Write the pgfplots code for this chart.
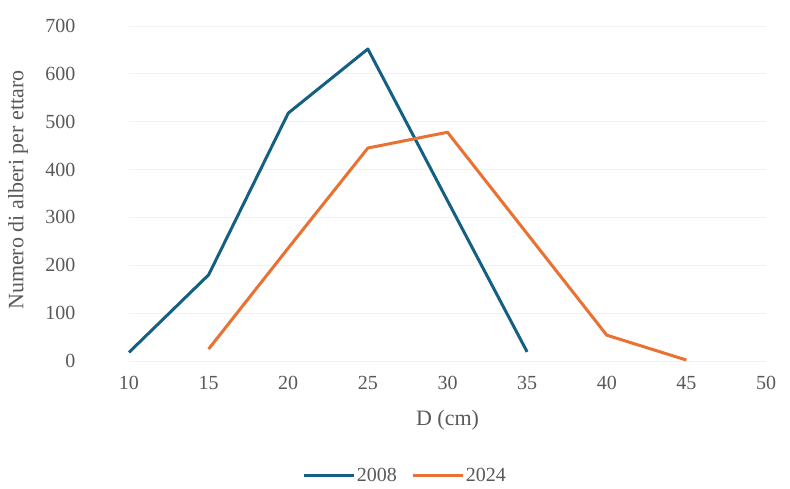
\documentclass[border=0pt]{standalone}
\usepackage{fontspec}
\setmainfont{Liberation Serif}
\usepackage{pgfplots}
\pgfplotsset{compat=1.18}
\definecolor{c08}{HTML}{156082}
\definecolor{c24}{HTML}{E97132}
\definecolor{txt}{HTML}{595959}
\begin{document}
\begin{tikzpicture}
\begin{axis}[
  scale only axis,
  width=637pt, height=335pt,
  xmin=10, xmax=50, ymin=0, ymax=700,
  xtick={10,15,...,50}, ytick={0,100,...,700},
  axis line style={draw=none},
  ymajorgrids, grid style={draw=black!5, line width=0.8pt},
  major tick length=0pt,
  tick label style={font=\fontsize{20}{23}\selectfont, text=txt},
  /pgf/number format/assume math mode=true,
  yticklabel style={xshift=-50pt},
  xticklabel style={yshift=-12pt},
  xlabel={D (cm)}, ylabel={Numero di alberi per ettaro},
  every axis x label/.style={at={(axis description cs:0.5,-0.176)}, anchor=center,
    font=\fontsize{22}{25}\selectfont, text=txt},
  every axis y label/.style={at={(axis description cs:-0.174,0.51)}, rotate=90, anchor=center,
    font=\fontsize{22}{25}\selectfont, text=txt},
  clip=false,
  legend style={at={(axis description cs:0.433,-0.343)}, anchor=center, draw=none, fill=none,
    font=\fontsize{20}{23}\selectfont, text=txt, legend columns=2,
    inner sep=0pt, outer sep=0pt,
    /tikz/every even column/.append style={column sep=14pt},
    nodes={inner sep=1pt}},
  legend image code/.code={\draw[#1, line width=3pt] (0pt,0pt) -- (50pt,0pt);},
]
\addplot[c08, line width=3pt, line join=round] coordinates {
 (10,18) (15,180) (20,518) (25,652) (30,335) (35,19)};
\addlegendentry{2008}
\addplot[c24, line width=3pt, line join=round] coordinates {
 (15,25) (20,236) (25,445) (30,478) (35,266) (40,54) (45,2)};
\addlegendentry{2024}
\path (rel axis cs:0,0) ++(-129pt,-128pt) (rel axis cs:1,1) ++(24pt,26pt);
\end{axis}
\end{tikzpicture}
\end{document}
